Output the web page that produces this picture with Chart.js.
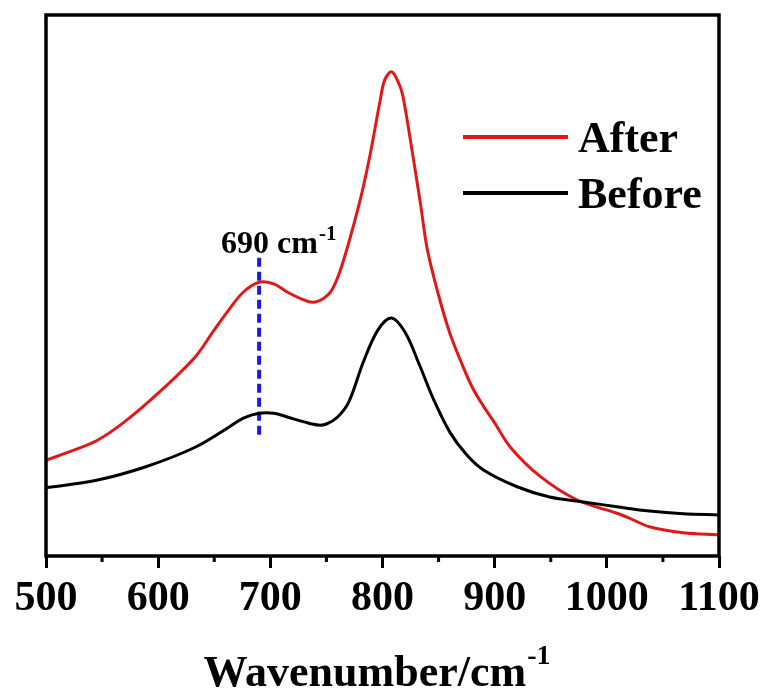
<!DOCTYPE html>
<html>
<head>
<meta charset="utf-8">
<script src="https://cdn.jsdelivr.net/npm/chart.js@4/dist/chart.umd.min.js"></script>
<style>
  html, body { margin: 0; padding: 0; background: #fff; }
  #wrap { width: 767px; height: 693px; }
</style>
</head>
<body>
<div id="wrap"><canvas id="line-chart"></canvas></div>
<script>
// spectra (intensity in arbitrary units)
var waveAfter = [500, 520, 545, 570, 600, 633, 650, 663, 676, 690, 703, 715, 728, 738, 748, 755, 764, 779, 788, 798, 802, 808, 814, 818, 827, 834, 840, 850, 860, 870, 880, 890, 900, 914, 940, 973, 1009, 1020, 1038, 1068, 1100];
var after     = [17.7, 19.2, 21.3, 24.8, 30.1, 36.8, 41.8, 45.5, 48.8, 50.6, 50.3, 48.8, 47.5, 46.9, 47.7, 49.2, 53.8, 64.9, 73.2, 84.3, 88.0, 89.5, 87.6, 85.2, 74.1, 64.9, 56.6, 48.2, 41.2, 35.9, 31.2, 27.7, 24.6, 20.1, 14.8, 10.4, 7.9, 7.0, 5.4, 4.3, 3.9];
var waveBefore = [500, 545, 589, 633, 663, 676, 690, 703, 715, 730, 743, 750, 760, 770, 783, 796, 808, 820, 833, 845, 860, 875, 890, 920, 949, 979, 1009, 1038, 1068, 1100];
var before     = [12.6, 14.0, 16.5, 20.1, 23.8, 25.5, 26.4, 26.4, 25.7, 24.8, 24.2, 24.4, 25.7, 28.5, 35.9, 41.8, 44.0, 41.4, 35.3, 29.2, 22.9, 18.7, 15.9, 12.8, 10.9, 10.0, 9.1, 8.3, 7.8, 7.6];
var markWave = [690, 690];
var markY    = [22.4, 56.0];
var xTicks = [500, 600, 700, 800, 900, 1000, 1100];
var minorTicks = [550, 650, 750, 850, 950, 1050];

var serif = '"Liberation Serif", "Times New Roman", serif';

function pts(xs, ys) {
    return xs.map(function (x, i) { return { x: x, y: ys[i] }; });
}

var extras = {
    id: 'extras',
    afterDraw: function (chart) {
        var ctx = chart.ctx, a = chart.chartArea, xs = chart.scales.x;
        ctx.save();
        // frame
        ctx.strokeStyle = '#000';
        ctx.lineWidth = 3.5;
        ctx.strokeRect(a.left, a.top, a.right - a.left, a.bottom - a.top);
        // minor ticks
        ctx.lineWidth = 3;
        minorTicks.forEach(function (v) {
            var px = xs.getPixelForValue(v);
            ctx.beginPath();
            ctx.moveTo(px, a.bottom);
            ctx.lineTo(px, a.bottom + 6);
            ctx.stroke();
        });
        // axis title with superscript
        ctx.fillStyle = '#000';
        ctx.textBaseline = 'alphabetic';
        ctx.textAlign = 'left';
        ctx.font = 'bold 44px ' + serif;
        var main = 'Wavenumber/cm';
        var w1 = ctx.measureText(main).width;
        ctx.font = 'bold 28px ' + serif;
        var w2 = ctx.measureText('-1').width;
        var x0 = (a.left + a.right) / 2 - (w1 + w2) / 2 - 6;
        ctx.font = 'bold 44px ' + serif;
        ctx.fillText(main, x0, 686);
        ctx.font = 'bold 28px ' + serif;
        ctx.fillText('-1', x0 + w1 + 1, 664);
        // peak label
        var lx = xs.getPixelForValue(690) - 38;
        ctx.font = 'bold 32px ' + serif;
        var lw = ctx.measureText('690 cm').width;
        ctx.fillText('690 cm', lx, 253);
        ctx.font = 'bold 21px ' + serif;
        ctx.fillText('-1', lx + lw + 1, 240);
        // legend
        ctx.lineWidth = 4;
        ctx.strokeStyle = '#e01818';
        ctx.beginPath(); ctx.moveTo(463, 137); ctx.lineTo(568, 137); ctx.stroke();
        ctx.strokeStyle = '#000';
        ctx.beginPath(); ctx.moveTo(463, 193); ctx.lineTo(568, 193); ctx.stroke();
        ctx.font = 'bold 44px ' + serif;
        ctx.fillText('After', 578, 152);
        ctx.fillText('Before', 578, 208);
        ctx.restore();
    }
};

new Chart(document.getElementById("line-chart"), {
    type: 'line',
    data: {
        datasets: [{
            data: pts(waveBefore, before),
            label: "Before",
            borderColor: "#000000",
            borderWidth: 3,
            pointRadius: 0,
            tension: 0.35,
            fill: false
        }, {
            data: pts(waveAfter, after),
            label: "After",
            borderColor: "#e01818",
            borderWidth: 3,
            pointRadius: 0,
            tension: 0.35,
            fill: false
        }, {
            data: pts(markWave, markY),
            label: "690",
            borderColor: "#1a1ae0",
            borderWidth: 4,
            borderDash: [9, 5],
            pointRadius: 0,
            fill: false
        }]
    },
    plugins: [extras],
    options: {
        responsive: true,
        maintainAspectRatio: false,
        animation: false,
        layout: { padding: { left: 46, right: 48, top: 15, bottom: 0 } },
        plugins: {
            legend: { display: false },
            tooltip: { enabled: false }
        },
        scales: {
            x: {
                type: 'linear',
                min: 500,
                max: 1100,
                afterBuildTicks: function (scale) {
                    scale.ticks = xTicks.map(function (v) { return { value: v }; });
                },
                afterFit: function (scale) { scale.height = 137; },
                grid: {
                    display: true,
                    drawOnChartArea: false,
                    drawTicks: true,
                    tickLength: 12,
                    tickWidth: 3,
                    tickColor: '#000'
                },
                border: { display: false },
                ticks: {
                    color: '#000',
                    padding: 6,
                    maxRotation: 0,
                    autoSkip: false,
                    callback: function (v) { return String(v); },
                    font: { family: serif, size: 42, weight: 'bold' }
                }
            },
            y: {
                display: false,
                min: 0,
                max: 100
            }
        }
    }
});
</script>
</body>
</html>
